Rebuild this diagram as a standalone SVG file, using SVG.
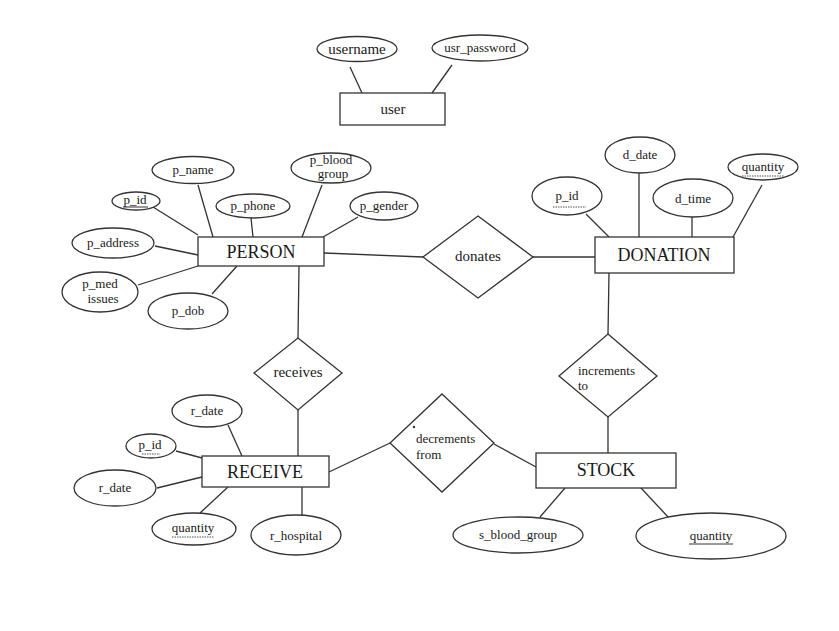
<svg xmlns="http://www.w3.org/2000/svg" width="839" height="631" viewBox="0 0 839 631">
<style>
  .shape { fill: #fff; stroke: #333; stroke-width: 1.3; }
  .conn line, .conn polyline { stroke: #333; stroke-width: 1.3; fill: none; }
  text { font-family: "Liberation Serif", "Times New Roman", serif; fill: #1a1a1a; text-anchor: middle; }
  .ent { font-size: 18px; }
  .att { font-size: 13px; }
  .rel { font-size: 15px; }
  .lt { text-anchor: start; font-size: 13px; }
  .ul { stroke: #333; stroke-width: 1; }
  .dul { stroke: #555; stroke-width: 1; stroke-dasharray: 1.5 1; }
</style>
<rect width="839" height="631" fill="#fff"/>
<g id="connectors" class="conn">
  <line x1="350" y1="67" x2="362" y2="93"/>
  <line x1="452" y1="65" x2="432" y2="93"/>
  <line x1="153" y1="207" x2="198" y2="235"/>
  <line x1="198" y1="185" x2="213" y2="237"/>
  <line x1="251" y1="218" x2="253" y2="237"/>
  <line x1="322" y1="185" x2="302" y2="237"/>
  <line x1="358" y1="217" x2="323" y2="237"/>
  <line x1="155" y1="246" x2="198" y2="255"/>
  <line x1="138" y1="285" x2="198" y2="266"/>
  <line x1="212" y1="294" x2="237" y2="266"/>
  <line x1="324" y1="253" x2="423" y2="257"/>
  <line x1="533" y1="257" x2="595" y2="257"/>
  <line x1="586" y1="214" x2="609" y2="237"/>
  <line x1="639" y1="173" x2="639" y2="237"/>
  <line x1="692" y1="217" x2="692" y2="237"/>
  <line x1="762" y1="185" x2="733" y2="237"/>
  <line x1="609" y1="273" x2="608" y2="334"/>
  <line x1="608" y1="417" x2="608" y2="453"/>
  <line x1="299" y1="266" x2="298" y2="338"/>
  <line x1="298" y1="410" x2="298" y2="456"/>
  <line x1="329" y1="472" x2="390" y2="443"/>
  <line x1="494" y1="444" x2="536" y2="467"/>
  <line x1="228" y1="425" x2="242" y2="456"/>
  <line x1="176" y1="451" x2="202" y2="458"/>
  <line x1="157" y1="488" x2="202" y2="477"/>
  <line x1="200" y1="513" x2="228" y2="487"/>
  <line x1="302" y1="487" x2="302" y2="515"/>
  <line x1="565" y1="488" x2="540" y2="517"/>
  <line x1="641" y1="488" x2="669" y2="518"/>
</g>
<g id="user">
  <rect class="shape" x="340" y="93" width="105" height="32"/>
  <text class="rel" x="393" y="114">user</text>
</g>
<g id="username">
  <ellipse class="shape" cx="357" cy="49" rx="40" ry="12.5"/>
  <text class="rel" x="357" y="54">username</text>
</g>
<g id="usr_password">
  <ellipse class="shape" cx="480" cy="48" rx="48" ry="13"/>
  <text class="att" x="480" y="52">usr_password</text>
</g>
<g id="person">
  <rect class="shape" x="198" y="237" width="126" height="29"/>
  <text class="ent" x="261" y="258">PERSON</text>
</g>
<g id="p_name">
  <ellipse class="shape" cx="193" cy="170" rx="41" ry="13.5"/>
  <text class="att" x="193" y="174">p_name</text>
</g>
<g id="person_p_id">
  <ellipse class="shape" cx="136" cy="201" rx="24" ry="9"/>
  <text class="att" x="135" y="204">p_id</text>
  <line class="ul" x1="123" y1="207" x2="148" y2="207"/>
</g>
<g id="p_phone">
  <ellipse class="shape" cx="253" cy="206" rx="37" ry="12"/>
  <text class="att" x="253" y="210">p_phone</text>
</g>
<g id="p_blood_group">
  <ellipse class="shape" cx="331" cy="168" rx="40" ry="15"/>
  <text class="att" x="331" y="164">p_blood</text>
  <text class="att" x="333" y="178">group</text>
</g>
<g id="p_gender">
  <ellipse class="shape" cx="384" cy="206" rx="34" ry="14"/>
  <text class="att" x="384" y="210">p_gender</text>
</g>
<g id="p_address">
  <ellipse class="shape" cx="113" cy="243" rx="41" ry="15"/>
  <text class="att" x="113" y="247">p_address</text>
</g>
<g id="p_med_issues">
  <ellipse class="shape" cx="100" cy="292" rx="38" ry="20"/>
  <text class="att" x="100" y="288">p_med</text>
  <text class="att" x="103" y="303">issues</text>
</g>
<g id="p_dob">
  <ellipse class="shape" cx="188" cy="311" rx="40" ry="18"/>
  <text class="att" x="188" y="315">p_dob</text>
</g>
<g id="donates">
  <polygon class="shape" points="478,216 533,257 478,298 423,257"/>
  <text class="rel" x="478" y="261">donates</text>
</g>
<g id="donation">
  <rect class="shape" x="595" y="237" width="139" height="36"/>
  <text class="ent" x="664" y="261">DONATION</text>
</g>
<g id="donation_p_id">
  <ellipse class="shape" cx="567" cy="196" rx="35" ry="19"/>
  <text class="att" x="567" y="200">p_id</text>
  <line class="dul" x1="553" y1="207" x2="586" y2="207"/>
</g>
<g id="d_date">
  <ellipse class="shape" cx="640" cy="155" rx="35" ry="18"/>
  <text class="att" x="640" y="159">d_date</text>
</g>
<g id="d_time">
  <ellipse class="shape" cx="693" cy="198" rx="40" ry="19"/>
  <text class="att" x="693" y="203">d_time</text>
</g>
<g id="donation_quantity">
  <ellipse class="shape" cx="763" cy="167" rx="35" ry="13"/>
  <text class="att" x="763" y="171">quantity</text>
  <line class="dul" x1="742" y1="176" x2="784" y2="176"/>
</g>
<g id="increments_to">
  <polygon class="shape" points="608,334 657,376 608,417 559,376"/>
  <text class="lt" x="578" y="375">increments</text>
  <text class="lt" x="578" y="390">to</text>
</g>
<g id="receives">
  <polygon class="shape" points="298,338 342,373 298,410 254,373"/>
  <text class="rel" x="298" y="377">receives</text>
</g>
<g id="receive">
  <rect class="shape" x="202" y="456" width="127" height="31"/>
  <text class="ent" x="265" y="478">RECEIVE</text>
</g>
<g id="r_date_1">
  <ellipse class="shape" cx="207" cy="411" rx="35" ry="16"/>
  <text class="att" x="207" y="415">r_date</text>
</g>
<g id="receive_p_id">
  <ellipse class="shape" cx="151" cy="446" rx="25" ry="12"/>
  <text class="att" x="150" y="449">p_id</text>
  <line class="dul" x1="142" y1="454" x2="160" y2="454"/>
</g>
<g id="r_date_2">
  <ellipse class="shape" cx="115" cy="488" rx="41" ry="18"/>
  <text class="att" x="115" y="492">r_date</text>
</g>
<g id="receive_quantity">
  <ellipse class="shape" cx="194" cy="529" rx="42" ry="16"/>
  <text class="att" x="193" y="532">quantity</text>
  <line class="dul" x1="172" y1="537" x2="214" y2="537"/>
</g>
<g id="r_hospital">
  <ellipse class="shape" cx="296" cy="535" rx="45" ry="20"/>
  <text class="att" x="296" y="540">r_hospital</text>
</g>
<g id="decrements_from">
  <polygon class="shape" points="442,394 494,443 442,492 390,443"/>
  <circle cx="414" cy="427" r="1.2" fill="#333"/>
  <text class="lt" x="416" y="443">decrements</text>
  <text class="lt" x="416" y="459">from</text>
</g>
<g id="stock">
  <rect class="shape" x="536" y="453" width="140" height="35"/>
  <text class="ent" x="606" y="476">STOCK</text>
</g>
<g id="s_blood_group">
  <ellipse class="shape" cx="518" cy="535" rx="65" ry="18"/>
  <text class="att" x="518" y="539">s_blood_group</text>
</g>
<g id="stock_quantity">
  <ellipse class="shape" cx="711" cy="536" rx="75" ry="23"/>
  <text class="att" x="711" y="540">quantity</text>
  <line class="ul" x1="689" y1="544" x2="733" y2="544"/>
</g>
</svg>
